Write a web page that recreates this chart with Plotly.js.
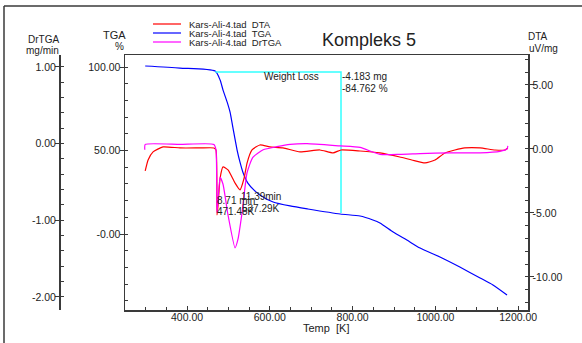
<!DOCTYPE html>
<html>
<head>
<meta charset="utf-8">
<script src="https://cdn.plot.ly/plotly-3.0.1.min.js"></script>
<style>html,body{margin:0;padding:0;background:#fff;}#chart{width:582px;height:343px;}</style>
</head>
<body>
<div id="chart"></div>
<script>
// ---- data ----
const seriesNames = ["Kars-Ali-4.tad  DTA", "Kars-Ali-4.tad  TGA", "Kars-Ali-4.tad  DrTGA"];

const tgaTemp = [299, 383, 468, 480, 487, 497, 504, 511, 521, 528, 535, 547, 562, 576, 608, 649, 692, 770, 818, 849, 866, 898, 931, 963, 1011, 1059, 1108, 1139, 1173];
const tgaVal  = [100.6, 99.4, 97.6, 92.2, 86.2, 79.0, 73.0, 63.5, 50.3, 43.0, 37.0, 30.5, 26.3, 23.4, 19.2, 16.8, 15.0, 12.0, 10.8, 8.4, 6.6, 1.2, -3.6, -8.4, -13.8, -19.8, -26.3, -30.5, -36.5];

const dtaTemp = [299, 306, 318, 342, 383, 431, 465, 470, 472.5, 475, 480, 487, 499, 516, 528, 538, 545, 557, 576, 600, 632, 673, 721, 753, 772, 818, 866, 914, 943, 975, 999, 1023, 1047, 1071, 1108, 1144, 1168, 1175];
const dtaVal  = [-1.72, -0.86, -0.23, 0.16, 0.08, 0.08, 0.08, -0.08, -5.16, -4.4, -2.27, -1.4, -1.64, -2.66, -3.2, -2.27, -1.1, -0.08, 0.31, 0.16, 0.08, -0.23, -0.08, -0.31, -0.08, -0.16, -0.31, -0.63, -0.86, -1.09, -0.86, -0.31, -0.08, 0.08, 0.08, -0.08, -0.08, 0.08];

const drtgaTemp = [298, 299, 383, 465, 470, 472.5, 475, 480, 487, 499, 516, 523, 533, 545, 559, 584, 617, 649, 690, 770, 818, 866, 914, 963, 1035, 1108, 1156, 1173, 1175];
const drtgaVal  = [-0.08, -0.01, -0.01, -0.01, -0.08, -0.90, -0.73, -0.44, -0.53, -0.93, -1.36, -1.25, -0.90, -0.38, -0.18, -0.08, -0.04, -0.01, 0.0, -0.03, -0.05, -0.14, -0.14, -0.13, -0.12, -0.12, -0.10, -0.07, -0.03];

// weight loss marker (TGA axis)
const wlTemp = [468, 772, 772];
const wlVal  = [97.0, 97.0, 12.6];

// tick labels
const xTickVals = [400, 600, 800, 1000, 1200];
const xTickText = ["400.00", "600.00", "800.00", "1000.00", "1200.00"];
const tgaTickVals = [0, 50, 100];
const tgaTickText = ["-0.00", "50.00", "100.00"];
const dtaTickVals = [-10, -5, 0, 5];
const dtaTickText = ["-10.00", "-5.00", "0.00", "5.00"];
const drTickVals = [-2, -1, 0, 1];
const drTickText = ["-2.00", "-1.00", "0.00", "1.00"];

const colors = ["#ff0000", "#0000ff", "#ff00ff"];
const FONT = "Liberation Sans, Arial, sans-serif";
const AX = "#3a3a3a";
const W = 582, H = 343;
const px = v => v / W;
const py = v => 1 - v / H;

const traces = [
  {x: dtaTemp, y: dtaVal, yaxis: "y2", mode: "lines", line: {color: colors[0], width: 1.2, shape: "spline", smoothing: 0.5}, name: seriesNames[0]},
  {x: tgaTemp, y: tgaVal, yaxis: "y", mode: "lines", line: {color: colors[1], width: 1.2, shape: "spline", smoothing: 0.6}, name: seriesNames[1]},
  {x: drtgaTemp, y: drtgaVal, yaxis: "y3", mode: "lines", line: {color: colors[2], width: 1.2, shape: "spline", smoothing: 0.5}, name: seriesNames[2]},
  {x: wlTemp, y: wlVal, yaxis: "y", mode: "lines", line: {color: "#33ffff", width: 1.5}, hoverinfo: "skip"}
];

const tickfont = {family: FONT, size: 10.5, color: "#222"};
const yDomain = [1 - 310 / H, 1 - 55 / H];

const baseY = {
  domain: yDomain, showgrid: false, zeroline: false, showline: true, linecolor: AX, linewidth: 1.5,
  ticks: "outside", ticklen: 4, tickcolor: AX, tickwidth: 1, tickmode: "array", tickfont: tickfont, fixedrange: true,
  ticklabelstandoff: -3
};

const shapes = [
  {type: "line", xref: "paper", yref: "paper", x0: px(4), x1: 1, y0: py(6), y1: py(6), line: {color: AX, width: 1.5}},
  {type: "line", xref: "paper", yref: "paper", x0: px(4), x1: px(4), y0: py(6), y1: 0, line: {color: AX, width: 1.5}}
];
const legY = [24, 33, 42];
legY.forEach((yy, i) => {
  shapes.push({type: "line", xref: "paper", yref: "paper", x0: px(153), x1: px(181), y0: py(yy), y1: py(yy), line: {color: colors[i], width: 1.2}});
});

function ann(text, x, y, size, xanchor, extra) {
  return Object.assign({text: text, xref: "paper", yref: "paper", x: px(x), y: py(y), xanchor: xanchor || "left", yanchor: "middle",
    showarrow: false, borderpad: 0, font: {family: FONT, size: size || 10, color: "#222"}}, extra || {});
}

const annotations = [
  ann("Kompleks 5", 369, 40, 18, "center"),
  ann("DrTGA", 60, 40, 10, "right"),
  ann("mg/min", 60, 50, 10, "right"),
  ann("TGA", 127, 35, 11, "right"),
  ann("%", 125, 47, 10, "right"),
  ann("DTA", 527, 36, 10, "left"),
  ann("uV/mg", 528, 48, 10, "left"),
  ann("Temp  [K]", 326, 328, 11, "center"),
  ann("Weight Loss", 291, 76, 10, "center"),
  ann("-4.183 mg", 341, 76, 10, "left"),
  ann("-84.762 %", 341, 88, 10, "left"),
  ann("8.71 min", 216, 200, 10, "left"),
  ann("471.48K", 216, 211, 10, "left"),
  ann("11.39min", 240, 197, 10, "left"),
  ann("537.29K", 241, 208, 10, "left")
];
seriesNames.forEach((n, i) => annotations.push(ann(n, 188, legY[i], 9.5, "left")));

const layout = {
  width: W, height: H, margin: {l: 0, r: 0, t: 0, b: 0, pad: 0},
  paper_bgcolor: "#fff", plot_bgcolor: "#fff", showlegend: false,
  font: {family: FONT, size: 10, color: "#222"},
  xaxis: {
    domain: [125 / W, 528 / W], range: [250.2, 1223.7], anchor: "y",
    tickmode: "array", tickvals: xTickVals, ticktext: xTickText,
    ticks: "inside", ticklen: 4, tickcolor: AX, showline: true, linecolor: AX, linewidth: 1.5, mirror: true,
    showgrid: false, zeroline: false, tickfont: tickfont, fixedrange: true, ticklabelstandoff: -3,
    minor: {tickmode: "linear", tick0: 0, dtick: 50, ticks: "inside", ticklen: 3, tickcolor: AX, showgrid: false}
  },
  yaxis: Object.assign({}, baseY, {
    side: "left", anchor: "x", range: [-45.5, 107.2], tickvals: tgaTickVals, ticktext: tgaTickText,
    minor: {tickmode: "linear", tick0: 0, dtick: 10, ticks: "inside", ticklen: 3, tickcolor: AX, showgrid: false}
  }),
  yaxis2: Object.assign({}, baseY, {
    side: "right", anchor: "x", overlaying: "y", range: [-12.58, 7.34], tickvals: dtaTickVals, ticktext: dtaTickText,
    minor: {tickmode: "linear", tick0: 0, dtick: 1, ticks: "inside", ticklen: 3, tickcolor: AX, showgrid: false}
  }),
  yaxis3: Object.assign({}, baseY, {
    side: "left", anchor: "free", position: 59 / W, overlaying: "y", range: [-2.17, 1.156], tickvals: drTickVals, ticktext: drTickText,
    minor: {tickmode: "linear", tick0: 0, dtick: 0.2, ticks: "inside", ticklen: 3, tickcolor: AX, showgrid: false}
  }),
  shapes: shapes,
  annotations: annotations
};

Plotly.newPlot("chart", traces, layout, {displayModeBar: false, staticPlot: true});
</script>
</body>
</html>
